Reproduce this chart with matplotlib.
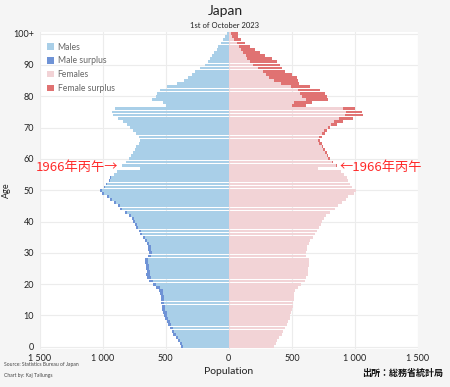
import numpy as np
import matplotlib.pyplot as plt

# Japan population by single year of age, 1 Oct 2023 (thousands), last = 100+
ages = np.arange(0, 101)
age_ticks = [0, 10, 20, 30, 40, 50, 60, 70, 80, 90, 100]
age_labels = ['0', '10', '20', '30', '40', '50', '60', '70', '80', '90', '100+']
pop_ticks = [-1500, -1000, -500, 0, 500, 1000, 1500]
pop_labels = ['1 500', '1 000', '500', '0', '500', '1 000', '1 500']

males = np.array([
    380, 391, 404, 420, 439, 452, 465, 479, 491, 505,
    510, 518, 526, 531, 535, 536, 539, 544, 550, 576,
    602, 629, 645, 655, 650, 655, 655, 663, 663, 637,
    632, 637, 637, 650, 663, 682, 703, 716, 735, 745,
    756, 769, 788, 822, 861, 880, 910, 940, 962, 1007,
    1020, 990, 972, 950, 940, 914, 888, 703, 848, 814,
    788, 777, 761, 743, 735, 716, 703, 716, 735, 756,
    783, 809, 836, 876, 920, 928, 902, 498, 519, 611,
    577, 566, 545, 492, 413, 355, 320, 294, 267, 228,
    188, 167, 148, 135, 116, 95, 82, 63, 43, 29,
    16])

females = np.array([
    362, 373, 385, 400, 418, 432, 444, 458, 470, 482,
    488, 494, 502, 507, 512, 514, 516, 520, 525, 548,
    575, 600, 615, 625, 625, 630, 632, 637, 637, 615,
    612, 617, 620, 632, 645, 665, 685, 700, 718, 730,
    740, 752, 772, 805, 845, 865, 895, 925, 948, 990,
    1005, 978, 962, 942, 935, 912, 890, 708, 856, 825,
    803, 789, 776, 763, 750, 735, 722, 737, 763, 777,
    803, 856, 908, 987, 1067, 1054, 1001, 610, 658, 789,
    776, 763, 723, 644, 560, 552, 539, 499, 446, 420,
    406, 380, 341, 288, 250, 208, 170, 129, 100, 70,
    76])

c_male = '#a9cfe8'
c_male_sur = '#6f93d6'
c_fem = '#f2d3d6'
c_fem_sur = '#e07272'

plt.rcParams['font.family'] = ['Lato', 'DejaVu Sans']

fig = plt.figure(figsize=(4.5, 3.87), dpi=100, facecolor='#f5f5f5')
ax = fig.add_axes([0.088, 0.099, 0.841, 0.819])
ax.set_facecolor('white')

common = np.minimum(males, females)
male_sur = np.clip(males - females, 0, None)
fem_sur = np.clip(females - males, 0, None)
h = 0.9

ax.barh(ages, -common, height=h, color=c_male, label='Males', zorder=2)
ax.barh(ages, -male_sur, left=-common, height=h, color=c_male_sur,
        label='Male surplus', zorder=2)
ax.barh(ages, common, height=h, color=c_fem, label='Females', zorder=2)
ax.barh(ages, fem_sur, left=common, height=h, color=c_fem_sur,
        label='Female surplus', zorder=2)

ax.set_xlim(-1500, 1500)
ax.set_ylim(-0.6, 100.6)
ax.set_xticks(pop_ticks)
ax.set_xticklabels(pop_labels)
ax.set_yticks(age_ticks)
ax.set_yticklabels(age_labels)
ax.tick_params(length=0, labelsize=6.5, colors='#222222', pad=4)
ax.grid(True, color='#ececec', linewidth=0.8, zorder=0)
ax.set_axisbelow(True)
for s in ax.spines.values():
    s.set_visible(False)

ax.set_xlabel('Population', fontsize=7.5, color='#222222', labelpad=3)
ax.set_ylabel('Age', fontsize=6.5, color='#222222')
ax.yaxis.set_label_coords(-0.075, 0.5)

fig.text(0.5, 0.972, 'Japan', ha='center', va='center', fontsize=10, color='#222222')
fig.text(0.5, 0.935, '1st of October 2023', ha='center', va='center', fontsize=5.5,
         color='#222222')

leg = ax.legend(loc='upper left', frameon=False, fontsize=6.2, handlelength=0.8,
                handleheight=0.8, handletextpad=0.4, labelspacing=0.55,
                bbox_to_anchor=(0.0, 0.99))
for t in leg.get_texts():
    t.set_color('#666666')

cjk = ['Noto Sans CJK JP', 'DejaVu Sans']
ax.text(-880, 57.3, '1966年丙午→', ha='right', va='center', fontsize=9.5,
        color='#ff2a2a', family=cjk, clip_on=False, zorder=5)
ax.text(880, 57.3, '←1966年丙午', ha='left', va='center', fontsize=9.5,
        color='#ff2a2a', family=cjk, clip_on=False, zorder=5)

fig.text(0.01, 0.057, 'Source: Statistics Bureau of Japan', fontsize=3.6,
         color='#444444', va='center')
fig.text(0.01, 0.030, 'Chart by: Kaj Tallungs', fontsize=3.6, color='#444444',
         va='center')
fig.text(0.985, 0.036, '出所：総務省統計局', ha='right', va='center', fontsize=6.5,
         fontweight='bold', family=cjk, color='#111111')

fig.savefig('out.png', dpi=100, facecolor=fig.get_facecolor())
